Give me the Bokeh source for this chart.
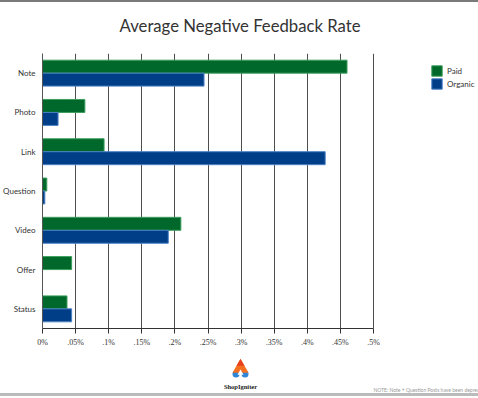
from bokeh.plotting import figure
from bokeh.layouts import column
from bokeh.models import (FactorRange, Range1d, FixedTicker, Legend,
                          LegendItem, ColumnDataSource, Label)
from bokeh.transform import dodge
from bokeh.embed import file_html
from bokeh.resources import INLINE

# ---- data ----
categories = ["Note", "Photo", "Link", "Question", "Video", "Offer", "Status"]
paid = [0.460, 0.064, 0.093, 0.0065, 0.209, 0.044, 0.037]
organic = [0.244, 0.0235, 0.427, 0.0035, 0.190, 0.0, 0.044]
x_ticks = [0.0, 0.05, 0.1, 0.15, 0.2, 0.25, 0.3, 0.35, 0.4, 0.45, 0.5]
x_tick_labels = ["0%", ".05%", ".1%", ".15%", ".2%", ".25%", ".3%", ".35%",
                 ".4%", ".45%", ".5%"]
series_names = ["Paid", "Organic"]
title_text = "Average Negative Feedback Rate"
note_text = "NOTE: Note + Question Posts have been deprecated"
brand_text = "ShopIgniter"

# ---- layout (page px) ----
W, H = 478, 398
FL, FR, FT, FB = 42, 373, 53, 328      # plot-frame edges of the value axis
BOT_AXIS = 22                          # room for the x tick labels
MID_BOTTOM = FB + BOT_AXIS             # page y where the bottom strip starts
X_MAX = x_ticks[-1]
X_END = X_MAX * (W - FL) / (FR - FL)   # frame extends to the right edge

GREEN, GREEN_EDGE = "#00682a", "#3c9e5c"
BLUE, BLUE_EDGE = "#003f88", "#4a80c4"
TXT = "#333333"


def blank_fig(h, y0, y1, css_bg):
    # frame covers page x FL..W (frames are aligned in the column)
    f = figure(width=W, height=h, x_range=Range1d(FL, W), y_range=Range1d(y1, y0),
               output_backend="svg", toolbar_location=None,
               x_axis_type=None, y_axis_type=None,
               min_border_left=FL, min_border_right=0,
               min_border_top=0, min_border_bottom=0)
    f.title.visible = False
    f.outline_line_color = None
    f.grid.visible = False
    f.background_fill_alpha = 0
    f.border_fill_alpha = 0
    f.styles = {"background": css_bg}
    return f


# ---------- top strip: stripe + title ----------
top = blank_fig(FT, 0, FT,
                "linear-gradient(to bottom, #7a7a7a 0px, #7a7a7a 2px, "
                "#ffffff 2px, #ffffff 100%)")
top.add_layout(Label(x=239.5, y=25.5, text=title_text, text_align="center",
                     text_baseline="alphabetic", text_font="Lato",
                     text_font_size="16.7px", text_color=TXT))

# ---------- main chart ----------
p = figure(width=W, height=MID_BOTTOM - FT,
           y_range=FactorRange(*reversed(categories)),
           x_range=Range1d(0, X_END),
           output_backend="svg", toolbar_location=None,
           min_border_left=FL, min_border_right=0,
           min_border_top=0, min_border_bottom=BOT_AXIS)
p.title.visible = False
p.outline_line_color = None
p.background_fill_color = "white"
p.border_fill_color = "white"

src = ColumnDataSource(dict(cat=categories, paid=paid, organic=organic))
r_paid = p.hbar(y=dodge("cat", 0.165, range=p.y_range), left=0, right="paid",
                height=0.33, fill_color=GREEN, line_color=GREEN_EDGE,
                line_width=1, source=src)
r_org = p.hbar(y=dodge("cat", -0.165, range=p.y_range), left=0, right="organic",
               height=0.33, fill_color=BLUE, line_color=BLUE_EDGE,
               line_width=1, source=src)

p.ygrid.visible = False
p.xgrid.ticker = FixedTicker(ticks=x_ticks)
p.xgrid.grid_line_color = "#4d4d4d"
p.xgrid.grid_line_width = 1
p.xgrid.level = "underlay"

xa = p.xaxis[0]
xa.ticker = FixedTicker(ticks=x_ticks)
xa.bounds = (0, X_MAX)
xa.major_label_overrides = dict(zip(x_ticks, x_tick_labels))
xa.major_tick_out = 5
xa.major_tick_in = 0
xa.minor_tick_out = 0
xa.minor_tick_in = 0
xa.axis_line_color = TXT
xa.major_tick_line_color = TXT
xa.major_label_text_font = "Liberation Serif"
xa.major_label_text_font_size = "8px"
xa.major_label_text_color = TXT
xa.major_label_standoff = 4

ya = p.yaxis[0]
ya.major_tick_out = 0
ya.major_tick_in = 0
ya.axis_line_color = "#555555"
ya.major_label_standoff = 7
ya.major_label_text_font = "Lato"
ya.major_label_text_font_size = "8px"
ya.major_label_text_color = TXT

legend = Legend(items=[LegendItem(label=series_names[0], renderers=[r_paid]),
                       LegendItem(label=series_names[1], renderers=[r_org])],
                location=(430 - FL, FB - 90),
                glyph_width=13, glyph_height=13, label_height=13,
                spacing=0, padding=0, margin=0, label_standoff=4,
                label_text_font="Lato", label_text_font_size="8px",
                label_text_color=TXT,
                border_line_alpha=0, background_fill_alpha=0)
p.add_layout(legend)

# ---------- bottom strip: logo, brand, footnote, stripe ----------
bh = H - MID_BOTTOM
bot = blank_fig(bh, MID_BOTTOM, H,
                "linear-gradient(to bottom, #ffffff 0px, "
                f"#ffffff {393 - MID_BOTTOM}px, #bbbbbb {393 - MID_BOTTOM}px, "
                f"#bbbbbb {396 - MID_BOTTOM}px, #ffffff {396 - MID_BOTTOM}px)")
bot.scatter(x=[235.5, 244.5], y=[373.5, 373.5], marker="circle", size=7,
            fill_color="#2f86d6", line_color=None)
bot.scatter(x=[240], y=[367.6], marker="triangle", size=16,
            fill_color="#f37021", line_color=None)
bot.scatter(x=[240], y=[363.0], marker="triangle", size=8,
            fill_color="#e8401c", line_color=None)
bot.scatter(x=[240], y=[372.5], marker="triangle", size=6,
            fill_color="white", line_color=None)
bot.add_layout(Label(x=240, y=386, text=brand_text, text_align="center",
                     text_baseline="alphabetic", text_font="Liberation Serif",
                     text_font_style="bold", text_font_size="6.5px",
                     text_color="#222222"))
bot.add_layout(Label(x=373, y=389, text=note_text, text_align="left",
                     text_baseline="alphabetic", text_font="Lato",
                     text_font_size="5px", text_color="#9a9a9a"))

layout = column(top, p, bot, spacing=0)
open("out.html", "w").write(file_html(layout, INLINE))
